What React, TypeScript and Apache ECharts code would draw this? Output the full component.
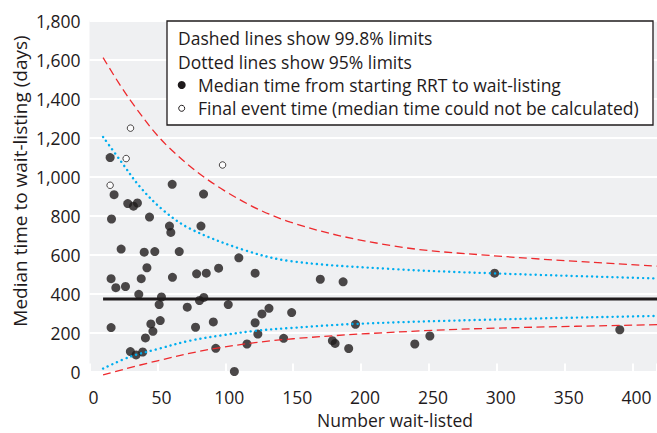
import React, { useEffect, useRef } from "react";
import * as echarts from "echarts";

// Filled points: median time from starting RRT to wait-listing
const filledX = [15.2, 18.1, 28.2, 32.4, 35.3, 60.9, 84, 16.2, 44.2, 58.9, 59.9, 82.1, 23.3, 40.3, 48.1, 66.1, 15.9, 19.4, 26.5, 38.1, 42.3, 61.1, 78.9, 86, 95.1, 110, 122, 15.9, 36.3, 51.3, 53, 72, 81, 84.2, 102.2, 45.2, 46.7, 52.1, 41.2, 30.1, 34.3, 39.2, 78.1, 91.2, 93, 106.7, 122, 124, 116, 127, 132.2, 148.9, 143, 170, 186.8, 298.4, 195.9, 178.9, 180.9, 190.9, 239.6, 250.7, 390.6];
const filledY = [1097, 907, 861, 848, 864, 960, 910, 782, 792, 746, 713, 746, 628, 612, 615, 615, 476, 430, 436, 476, 532, 483, 501, 504, 530, 583, 504, 225, 396, 343, 382, 330, 364, 380, 343, 244, 206, 261, 172, 102, 85, 100, 227, 254, 119, 0, 250, 192, 141, 295, 324, 302, 170, 473, 460, 504, 242, 158, 144, 118, 141, 182, 214];

// Open points: final event time
const openX = [15.2, 30.2, 27, 98];
const openY = [955, 1248, 1092, 1059];

// Overall median
const medianX = [10, 418];
const medianY = [372, 372];

// 99.8% limits (dashed)
const upper998X = [10, 30, 58, 99, 148, 222, 295, 418];
const upper998Y = [1610, 1392, 1152, 929, 766, 646, 595, 540];
const lower998X = [10, 50, 94, 150, 246, 320, 418];
const lower998Y = [-17, 55, 120, 168, 209, 226, 240];

// 95% limits (dotted)
const upper95X = [10, 22.6, 37.3, 54.5, 74.2, 113.5, 148, 221.7, 298.4, 418];
const upper95Y = [1203, 1083, 946, 826, 732, 624, 566, 526, 503, 477];
const lower95X = [10, 30, 50, 74, 99, 123, 148, 196, 295, 418];
const lower95Y = [15, 76, 115, 158, 187, 209, 223, 244, 266, 285];

const legendLines = [
  "Dashed lines show 99.8% limits",
  "Dotted lines show 95% limits",
  "Median time from starting RRT to wait-listing",
  "Final event time (median time could not be calculated)",
];

const xTitle = "Number wait-listed";
const yTitle = "Median time to wait-listing (days)";

const zip = (xs: number[], ys: number[]) => xs.map((x, i) => [x, ys[i]]);

const FONT = "Open Sans";
const INK = "#1f1b1c";
const FS = 17.5;

export default function App() {
  const ref = useRef<HTMLDivElement>(null);
  useEffect(() => {
    if (!ref.current) return;
    const chart = echarts.init(ref.current, null, { renderer: "svg" });
    const limitLine = (xs: number[], ys: number[], color: string, width: number, type: number[], cap: string, clip: boolean) => ({
      type: "line",
      data: zip(xs, ys),
      symbol: "none",
      smooth: 0.35,
      clip,
      lineStyle: { color, width, type, cap },
      z: 4,
    });
    chart.setOption({
      animation: false,
      backgroundColor: "#ffffff",
      textStyle: { fontFamily: FONT, color: INK },
      grid: {
        left: 89.5,
        right: 0,
        top: 20.5,
        bottom: 61.5,
        show: true,
        backgroundColor: "#eff0f2",
        borderWidth: 0,
        containLabel: false,
        outerBoundsMode: "none",
      },
      xAxis: {
        type: "value",
        min: 0,
        max: 418,
        interval: 50,
        axisLine: { show: false },
        splitLine: { show: false },
        axisTick: { show: true, inside: true, length: 8, lineStyle: { color: "#ffffff", width: 2 } },
        axisLabel: {
          margin: 16,
          fontSize: FS,
          fontFamily: FONT,
          color: INK,
          padding: [0, 0, 0, 8],
          formatter: (v: number) => (v % 50 === 0 ? String(v) : ""),
        },
      },
      yAxis: {
        type: "value",
        min: 0,
        max: 1800,
        interval: 200,
        axisLine: { show: false },
        axisTick: { show: false },
        splitLine: { show: true, lineStyle: { color: "#ffffff", width: 2 } },
        axisLabel: {
          margin: 9,
          fontSize: FS,
          fontFamily: FONT,
          color: INK,
          formatter: (v: number) => v.toLocaleString("en-US"),
        },
      },
      series: [
        {
          type: "line",
          data: zip(medianX, medianY),
          symbol: "none",
          lineStyle: { color: INK, width: 3 },
          z: 2,
        },
        {
          type: "scatter",
          data: zip(filledX, filledY),
          symbol: "circle",
          symbolSize: 9,
          itemStyle: { color: INK },
          clip: false,
          z: 3,
        },
        {
          type: "scatter",
          data: zip(openX, openY),
          symbol: "circle",
          symbolSize: 6.5,
          itemStyle: { color: "#ffffff", borderColor: INK, borderWidth: 1 },
          z: 3,
        },
        limitLine(upper998X, upper998Y, "#ee2a2e", 1.3, [8, 4.5], "butt", true),
        limitLine(lower998X, lower998Y, "#ee2a2e", 1.3, [8, 4.5], "butt", false),
        limitLine(upper95X, upper95Y, "#00aeef", 2.4, [0.1, 5], "round", true),
        limitLine(lower95X, lower95Y, "#00aeef", 2.4, [0.1, 5], "round", true),
      ],
      graphic: [
        {
          type: "rect",
          z: 100,
          shape: { x: 167, y: 21, width: 486, height: 104 },
          style: { fill: "#ffffff", stroke: INK, lineWidth: 1.3 },
        },
        {
          type: "text",
          z: 101,
          x: 178,
          y: 38,
          style: { text: legendLines[0], fontSize: FS, fontFamily: FONT, fill: INK, verticalAlign: "middle" },
        },
        {
          type: "text",
          z: 101,
          x: 178,
          y: 61.5,
          style: { text: legendLines[1], fontSize: FS, fontFamily: FONT, fill: INK, verticalAlign: "middle" },
        },
        {
          type: "circle",
          z: 101,
          shape: { cx: 181.7, cy: 85, r: 4 },
          style: { fill: INK },
        },
        {
          type: "text",
          z: 101,
          x: 198,
          y: 85,
          style: { text: legendLines[2], fontSize: FS, fontFamily: FONT, fill: INK, verticalAlign: "middle" },
        },
        {
          type: "circle",
          z: 101,
          shape: { cx: 181.7, cy: 108.3, r: 3 },
          style: { fill: "#ffffff", stroke: INK, lineWidth: 1 },
        },
        {
          type: "text",
          z: 101,
          x: 198,
          y: 108.3,
          style: { text: legendLines[3], fontSize: FS, fontFamily: FONT, fill: INK, verticalAlign: "middle" },
        },
        {
          type: "text",
          z: 101,
          x: 395,
          y: 420,
          style: { text: xTitle, fontSize: FS, fontFamily: FONT, fill: INK, align: "center", verticalAlign: "middle" },
        },
        {
          type: "text",
          z: 101,
          x: 20,
          y: 181,
          rotation: Math.PI / 2,
          style: { text: yTitle, fontSize: 19, fontFamily: FONT, fill: INK, align: "center", verticalAlign: "middle" },
        },
      ],
    });
    return () => chart.dispose();
  }, []);
  return (
    <div
      ref={ref}
      style={{ position: "fixed", left: 0, top: 0, width: 657, height: 433, background: "#ffffff" }}
    />
  );
}
